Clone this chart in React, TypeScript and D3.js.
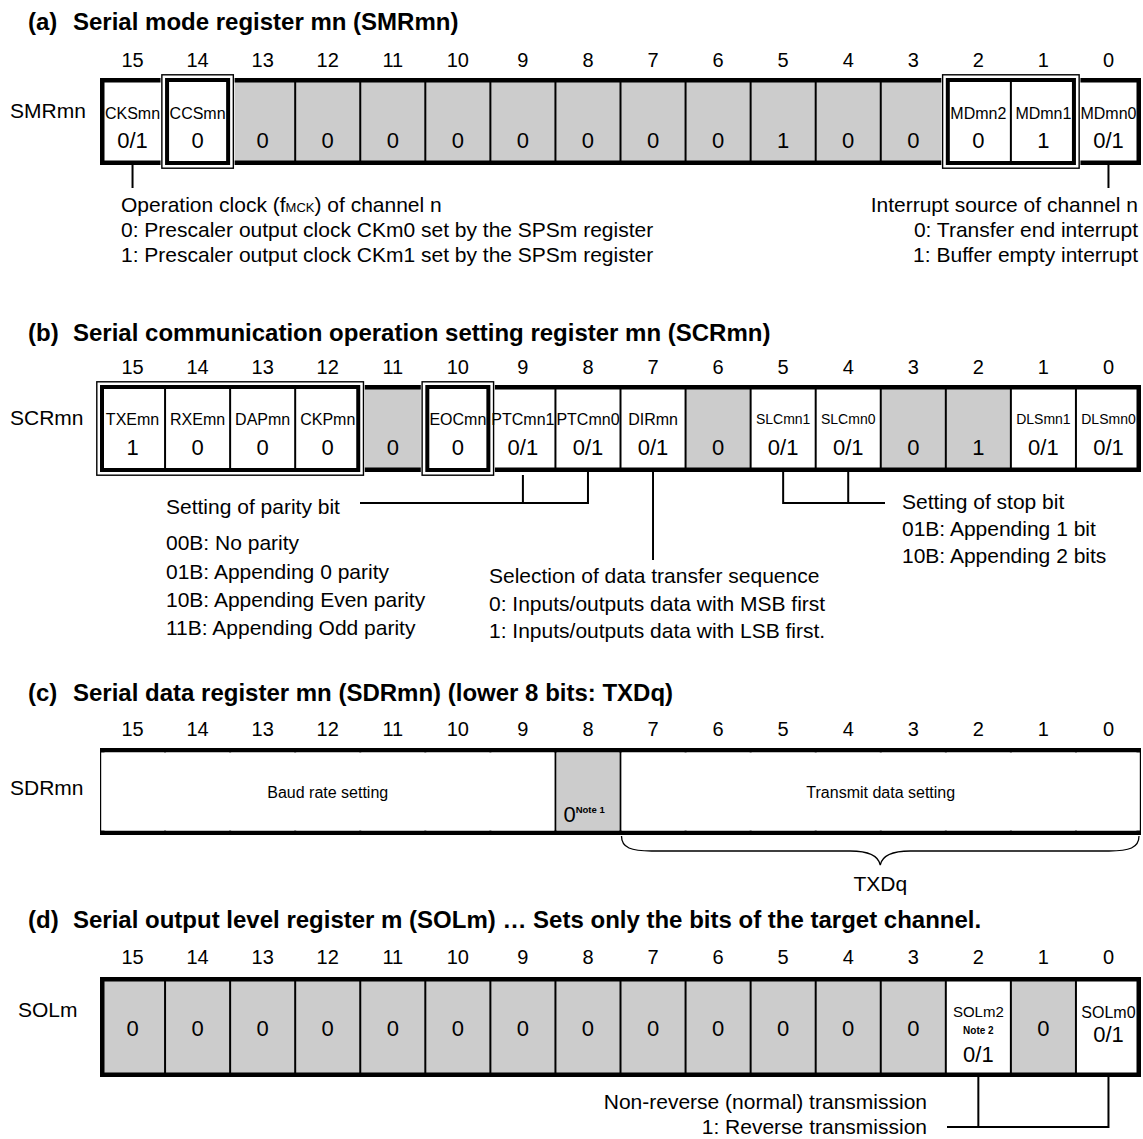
import React from "react";
import * as d3 from "d3";

// ---------- data ----------
const BITS = d3.range(15, -1, -1);

const SMR_NAMES = ["CKSmn", "CCSmn", "", "", "", "", "", "", "", "", "", "", "", "MDmn2", "MDmn1", "MDmn0"];
const SMR_VALUES = ["0/1", "0", "0", "0", "0", "0", "0", "0", "0", "0", "1", "0", "0", "0", "1", "0/1"];
const SMR_SHADED = [0, 0, 1, 1, 1, 1, 1, 1, 1, 1, 1, 1, 1, 0, 0, 0];
const SMR_GROUPS = [[14, 14], [2, 1]];

const SCR_NAMES = ["TXEmn", "RXEmn", "DAPmn", "CKPmn", "", "EOCmn", "PTCmn1", "PTCmn0", "DIRmn", "", "SLCmn1", "SLCmn0", "", "", "DLSmn1", "DLSmn0"];
const SCR_VALUES = ["1", "0", "0", "0", "0", "0", "0/1", "0/1", "0/1", "0", "0/1", "0/1", "0", "1", "0/1", "0/1"];
const SCR_SHADED = [0, 0, 0, 0, 1, 0, 0, 0, 0, 1, 0, 0, 1, 1, 0, 0];
const SCR_GROUPS = [[15, 12], [10, 10]];

const SDR_FIELDS = [
  { hi: 15, lo: 9, text: "Baud rate setting", shaded: 0, note: "" },
  { hi: 8, lo: 8, text: "0", shaded: 1, note: "Note 1" },
  { hi: 7, lo: 0, text: "Transmit data setting", shaded: 0, note: "" },
];

const SOL_NAMES = ["", "", "", "", "", "", "", "", "", "", "", "", "", "SOLm2", "", "SOLm0"];
const SOL_NOTES = ["", "", "", "", "", "", "", "", "", "", "", "", "", "Note 2", "", ""];
const SOL_VALUES = ["0", "0", "0", "0", "0", "0", "0", "0", "0", "0", "0", "0", "0", "0/1", "0", "0/1"];
const SOL_SHADED = [1, 1, 1, 1, 1, 1, 1, 1, 1, 1, 1, 1, 1, 0, 1, 0];

const TITLES = [
  ["(a)", "Serial mode register mn (SMRmn)"],
  ["(b)", "Serial communication operation setting register mn (SCRmn)"],
  ["(c)", "Serial data register mn (SDRmn) (lower 8 bits: TXDq)"],
  ["(d)", "Serial output level register m (SOLm) \u2026 Sets only the bits of the target channel."],
];
const REG_LABELS = ["SMRmn", "SCRmn", "SDRmn", "SOLm"];

const SMR_LEFT_NOTE = ["0: Prescaler output clock CKm0 set by the SPSm register", "1: Prescaler output clock CKm1 set by the SPSm register"];
const SMR_RIGHT_NOTE = ["Interrupt source of channel n", "0: Transfer end interrupt", "1: Buffer empty interrupt"];
const PARITY_NOTE = ["00B: No parity", "01B: Appending 0 parity", "10B: Appending Even parity", "11B: Appending Odd parity"];
const DIR_NOTE = ["Selection of data transfer sequence", "0: Inputs/outputs data with MSB first", "1: Inputs/outputs data with LSB first."];
const STOP_NOTE = ["Setting of stop bit", "01B: Appending 1 bit", "10B: Appending 2 bits"];
const SOL_NOTE = ["Non-reverse (normal) transmission", "1: Reverse transmission"];

// ---------- drawing ----------
const W = 1143;
const H = 1139;
const FONT = "'Liberation Sans', Arial, Helvetica, sans-serif";
const GRAY = "#cccccc";

const x = d3.scaleBand<number>().domain(BITS).range([100, 1141]).padding(0);
const bw = x.bandwidth();
const cx = (b: number) => (x(b) as number) + bw / 2;

function BitNumbers({ y }: { y: number }) {
  return (
    <g>
      {BITS.map((b) => (
        <text key={b} x={cx(b)} y={y} dy="0.35em" textAnchor="middle" fontSize={20}>
          {String(b)}
        </text>
      ))}
    </g>
  );
}

function Title({ y, idx }: { y: number; idx: number }) {
  return (
    <g fontWeight="bold" fontSize={24}>
      <text x={28} y={y} dy="0.35em">{TITLES[idx][0]}</text>
      <text x={73} y={y} dy="0.35em">{TITLES[idx][1]}</text>
    </g>
  );
}

function Frame({ top, h, children, groups }: any) {
  const left = x(15) as number;
  const right = (x(0) as number) + bw;
  return (
    <g>
      {children}
      {BITS.slice(1).map((b) => (
        <line key={b} x1={x(b)} x2={x(b)} y1={top} y2={top + h} stroke="#000" strokeWidth={2} />
      ))}
      <rect x={left + 2.25} y={top + 2.25} width={right - left - 4.5} height={h - 4.5} fill="none" stroke="#000" strokeWidth={4.5} />
      {groups.map(([hi, lo]: number[], i: number) => {
        const x0 = x(hi) as number;
        const x1 = (x(lo) as number) + bw;
        const inner = BITS.filter((b) => b < hi && b >= lo);
        return (
          <g key={i}>
            <rect x={x0 - 4.5} y={top - 4.5} width={x1 - x0 + 9} height={h + 9} fill="#fff" />
            <rect x={x0 - 3.2} y={top - 3.2} width={x1 - x0 + 6.4} height={h + 6.4} fill="none" stroke="#000" strokeWidth={1.4} />
            {inner.map((b) => (
              <line key={b} x1={x(b)} x2={x(b)} y1={top} y2={top + h} stroke="#000" strokeWidth={2} />
            ))}
            <rect x={x0 + 2} y={top + 2} width={x1 - x0 - 4} height={h - 4} fill="none" stroke="#000" strokeWidth={4} />
          </g>
        );
      })}
    </g>
  );
}

const nameSize = (n: string) => (n.startsWith("SLC") || n.startsWith("DLS") ? 14 : n.startsWith("SOLm2") ? 15 : 16);

function BitRegister({ top, h, names, values, shaded, groups, notes, nameOff, valueOff, plainOff }: any) {
  return (
    <g>
      <Frame top={top} h={h} groups={groups}>
        {BITS.map((b, i) => (
          <rect key={b} x={x(b)} y={top} width={bw} height={h} fill={shaded[i] ? GRAY : "#fff"} />
        ))}
      </Frame>
      {BITS.map((b, i) => {
        const n = names[i];
        const note = notes ? notes[i] : "";
        const vy = n ? (note ? top + 77 : top + valueOff) : top + plainOff;
        return (
          <g key={b}>
            {n && (
              <text x={cx(b)} y={top + nameOff} dy="0.35em" textAnchor="middle" fontSize={nameSize(n)}>
                {n}
              </text>
            )}
            {note && (
              <text x={cx(b)} y={top + 53} dy="0.35em" textAnchor="middle" fontSize={10} fontWeight="bold">
                {note}
              </text>
            )}
            <text x={cx(b)} y={vy} dy="0.35em" textAnchor="middle" fontSize={22}>
              {values[i]}
            </text>
          </g>
        );
      })}
    </g>
  );
}

function Lines({ lines, x0, y0, step, anchor = "start" }: any) {
  return (
    <g fontSize={21}>
      {lines.map((t: string, i: number) => (
        <text key={i} x={x0} y={y0 + i * step} dy="0.35em" textAnchor={anchor}>
          {t}
        </text>
      ))}
    </g>
  );
}

export default function App() {
  const aTop = 78, aH = 87;
  const bTop = 385, bH = 87;
  const cTop = 748, cH = 87;
  const dTop = 977, dH = 100;

  const conn = { stroke: "#000", strokeWidth: 2, fill: "none" };

  const braceL = (x(7) as number) + 1;
  const braceR = (x(0) as number) + bw - 2;
  const braceM = (braceL + braceR) / 2;
  const bTopY = cTop + cH + 1;
  const brace = d3.path();
  brace.moveTo(braceL, bTopY);
  brace.bezierCurveTo(braceL, bTopY + 12, braceL + 10, bTopY + 15, braceL + 30, bTopY + 15);
  brace.lineTo(braceM - 30, bTopY + 15);
  brace.bezierCurveTo(braceM - 12, bTopY + 15, braceM - 2, bTopY + 19, braceM, bTopY + 29);
  brace.bezierCurveTo(braceM + 2, bTopY + 19, braceM + 12, bTopY + 15, braceM + 30, bTopY + 15);
  brace.lineTo(braceR - 30, bTopY + 15);
  brace.bezierCurveTo(braceR - 10, bTopY + 15, braceR, bTopY + 12, braceR, bTopY);

  return (
    <div style={{ position: "absolute", left: 0, top: 0 }}>
      <svg width={W} height={H} style={{ display: "block", background: "#fff" }} fontFamily={FONT} fill="#000">
        {/* (a) */}
        <Title y={22} idx={0} />
        <BitNumbers y={60} />
        <text x={10} y={aTop + 33} dy="0.35em" fontSize={21}>{REG_LABELS[0]}</text>
        <BitRegister top={aTop} h={aH} names={SMR_NAMES} values={SMR_VALUES} shaded={SMR_SHADED} groups={SMR_GROUPS} nameOff={35} valueOff={62} plainOff={62} />
        <line x1={cx(15)} x2={cx(15)} y1={aTop + aH} y2={aTop + aH + 23} {...conn} />
        <line x1={cx(0)} x2={cx(0)} y1={aTop + aH} y2={aTop + aH + 23} {...conn} />
        <text x={121} y={205} dy="0.35em" fontSize={21}>
          Operation clock (f<tspan fontSize={13}>MCK</tspan>) of channel n
        </text>
        <Lines lines={SMR_LEFT_NOTE} x0={121} y0={230} step={25} />
        <Lines lines={SMR_RIGHT_NOTE} x0={1138} y0={205} step={25} anchor="end" />

        {/* (b) */}
        <Title y={333} idx={1} />
        <BitNumbers y={367} />
        <text x={10} y={bTop + 33} dy="0.35em" fontSize={21}>{REG_LABELS[1]}</text>
        <BitRegister top={bTop} h={bH} names={SCR_NAMES} values={SCR_VALUES} shaded={SCR_SHADED} groups={SCR_GROUPS} nameOff={34} valueOff={62} plainOff={62} />
        <path d={`M${cx(9)},${bTop + bH + 3}V503M${cx(8)},${bTop + bH}V503H360`} {...conn} />
        <Lines lines={["Setting of parity bit"]} x0={166} y0={507} step={28} />
        <Lines lines={PARITY_NOTE} x0={166} y0={543} step={28.3} />
        <path d={`M${cx(7)},${bTop + bH}V560`} {...conn} />
        <Lines lines={DIR_NOTE} x0={489} y0={576} step={27.5} />
        <path d={`M${cx(5)},${bTop + bH}V503H885M${cx(4)},${bTop + bH}V503`} {...conn} />
        <Lines lines={STOP_NOTE} x0={902} y0={502} step={27} />

        {/* (c) */}
        <Title y={693} idx={2} />
        <BitNumbers y={729} />
        <text x={10} y={cTop + 40} dy="0.35em" fontSize={21}>{REG_LABELS[2]}</text>
        <Frame top={cTop} h={cH} groups={[]}>
          {SDR_FIELDS.map((f, i) => {
            const x0 = x(f.hi) as number;
            const x1 = (x(f.lo) as number) + bw;
            return <rect key={i} x={x0} y={cTop} width={x1 - x0} height={cH} fill={f.shaded ? GRAY : "#fff"} />;
          })}
        </Frame>
        {SDR_FIELDS.map((f, i) => {
          const x0 = x(f.hi) as number;
          const x1 = (x(f.lo) as number) + bw;
          return <rect key={i} x={x0 + 1.2} y={cTop + 4.5} width={x1 - x0 - 2.4} height={cH - 9} fill={f.shaded ? GRAY : "#fff"} />;
        })}
        {SDR_FIELDS.map((f, i) => {
          const x0 = x(f.hi) as number;
          const x1 = (x(f.lo) as number) + bw;
          const mid = (x0 + x1) / 2;
          return f.note ? (
            <text key={i} x={x0 + 8} y={cTop + 66} dy="0.35em" fontSize={22}>
              {f.text}
              <tspan fontSize={9.5} fontWeight="bold" dy={-9}>{f.note}</tspan>
            </text>
          ) : (
            <text key={i} x={mid} y={cTop + 44} dy="0.35em" textAnchor="middle" fontSize={16}>
              {f.text}
            </text>
          );
        })}
        <path d={brace.toString()} fill="none" stroke="#000" strokeWidth={1.3} />
        <text x={braceM} y={884} dy="0.35em" textAnchor="middle" fontSize={21}>TXDq</text>

        {/* (d) */}
        <Title y={920} idx={3} />
        <BitNumbers y={957} />
        <text x={18} y={dTop + 33} dy="0.35em" fontSize={21}>{REG_LABELS[3]}</text>
        <BitRegister top={dTop} h={dH} names={SOL_NAMES} values={SOL_VALUES} shaded={SOL_SHADED} groups={[]} notes={SOL_NOTES} nameOff={35} valueOff={57} plainOff={51} />
        <path d={`M${cx(2)},${dTop + dH}V1127M${cx(0)},${dTop + dH}V1127H947`} {...conn} />
        <Lines lines={SOL_NOTE} x0={927} y0={1102} step={25} anchor="end" />
      </svg>
    </div>
  );
}
